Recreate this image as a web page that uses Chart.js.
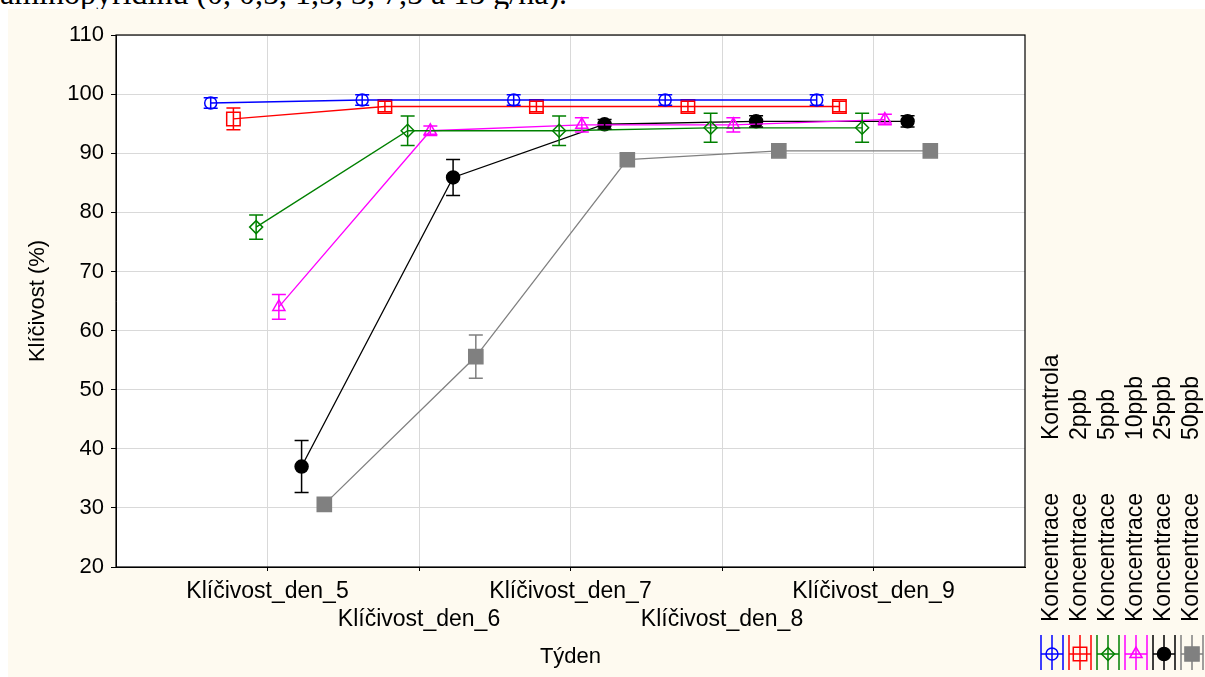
<!DOCTYPE html>
<html>
<head>
<meta charset="utf-8">
<script src="https://cdn.jsdelivr.net/npm/chart.js"></script>
<style>
  html, body { margin: 0; padding: 0; background: #fff; }
  #top { position: absolute; left: 0; top: 0; width: 1205px; height: 9px; overflow: hidden; }
  #top span { position: absolute; left: 0; top: -23px; font: 32px "Liberation Serif", serif; line-height: 32px; white-space: nowrap; color: #000; }
  #wrap { position: absolute; left: 8px; top: 9px; width: 1197px; height: 668px; background: #fefaf0; }
</style>
</head>
<body>
<div id="top"><span>aminopyridinu (0, 0,5, 1,5, 3, 7,5 a 15 g/ha).</span></div>
<div id="wrap"><canvas id="chart" width="1197" height="668"></canvas></div>
<script>
// x categories (days) and series (concentrations)
const days = ['Klíčivost_den_5', 'Klíčivost_den_6', 'Klíčivost_den_7', 'Klíčivost_den_8', 'Klíčivost_den_9'];
const groups = ['Kontrola', '2ppb', '5ppb', '10ppb', '25ppb', '50ppb'];

// mean germination (%)
const kontrola = [98.5, 99, 99, 99, 99];
const ppb2 = [95.8, 97.9, 97.9, 97.9, 97.9];
const ppb5 = [77.5, 93.8, 93.8, 94.3, 94.3];
const ppb10 = [64, 93.8, 94.8, 94.8, 95.7];
const ppb25 = [37, 85.9, 94.9, 95.4, 95.4];
const ppb50 = [30.6, 55.6, 88.9, 90.4, 90.4];

// error bar half-widths
const errKontrola = [0.9, 0.9, 0.9, 0.9, 0.9];
const errPpb2 = [1.85, 0.9, 0.9, 0.9, 0.9];
const errPpb5 = [2.05, 2.5, 2.5, 2.45, 2.45];
const errPpb10 = [2.1, 0.8, 1.2, 1.2, 0.9];
const errPpb25 = [4.4, 3.05, 0.8, 0.95, 0.95];
const errPpb50 = [0.5, 3.65, 0.6, 0.7, 0.7];

const values = [kontrola, ppb2, ppb5, ppb10, ppb25, ppb50];
const errors = [errKontrola, errPpb2, errPpb5, errPpb10, errPpb25, errPpb50];

const colors = ['#0000ff', '#ff0000', '#008000', '#ff00ff', '#000000', '#808080'];
const markers = [
  { pointStyle: 'circle', radius: 6, fill: false },
  { pointStyle: 'rect', radius: 9.5, fill: false },
  { pointStyle: 'rectRot', radius: 6.5, fill: false },
  { pointStyle: 'triangle', radius: 7, fill: false },
  { pointStyle: 'circle', radius: 6.5, fill: true },
  { pointStyle: 'rect', radius: 10, fill: true },
];

const FONT = '"Liberation Sans", Arial, sans-serif';

const datasets = values.map((vals, s) => ({
  label: groups[s],
  data: vals.map((v, i) => ({ x: i + 1 + (s - 2.5) * 0.15, y: v })),
  errors: errors[s],
  borderColor: colors[s],
  backgroundColor: colors[s],
  borderWidth: 1.3,
  tension: 0,
  pointStyle: markers[s].pointStyle,
  pointRadius: markers[s].radius,
  pointBorderWidth: 1.5,
  pointBorderColor: colors[s],
  pointBackgroundColor: markers[s].fill ? colors[s] : 'rgba(0,0,0,0)',
}));

const plotBackground = {
  id: 'plotBackground',
  beforeDraw(chart) {
    const { ctx, chartArea: a } = chart;
    ctx.save();
    ctx.fillStyle = '#fff';
    ctx.fillRect(a.left, a.top, a.right - a.left, a.bottom - a.top);
    ctx.restore();
  },
  afterDraw(chart) {
    const { ctx, chartArea: a } = chart;
    ctx.save();
    ctx.strokeStyle = '#000';
    ctx.lineWidth = 1.2;
    ctx.strokeRect(a.left, a.top, a.right - a.left, a.bottom - a.top);
    ctx.restore();
  }
};

const errorBars = {
  id: 'errorBars',
  afterDatasetsDraw(chart) {
    const { ctx, scales: { x, y } } = chart;
    chart.data.datasets.forEach((ds) => {
      ctx.save();
      ctx.strokeStyle = ds.borderColor;
      ctx.lineWidth = 1.5;
      ds.data.forEach((p, i) => {
        const e = ds.errors[i];
        const px = x.getPixelForValue(p.x);
        const y1 = y.getPixelForValue(p.y + e);
        const y2 = y.getPixelForValue(p.y - e);
        ctx.beginPath();
        ctx.moveTo(px, y1); ctx.lineTo(px, y2);
        ctx.moveTo(px - 7, y1); ctx.lineTo(px + 7, y1);
        ctx.moveTo(px - 7, y2); ctx.lineTo(px + 7, y2);
        ctx.stroke();
      });
      ctx.restore();
    });
  }
};

// legend on the right, rotated text like the original
const sideLegend = {
  id: 'sideLegend',
  afterDraw(chart) {
    const ctx = chart.ctx;
    groups.forEach((g, i) => {
      const cx = 1044 + 28 * i;
      ctx.save();
      ctx.font = '23px ' + FONT;
      ctx.fillStyle = '#000';
      ctx.translate(cx, 613);
      ctx.rotate(-Math.PI / 2);
      ctx.textAlign = 'left';
      ctx.textBaseline = 'middle';
      ctx.fillText('Koncentrace', 0, 0);
      ctx.fillText(g, 182, 0);
      ctx.restore();

      ctx.save();
      ctx.strokeStyle = colors[i];
      ctx.lineWidth = 1.5;
      ctx.beginPath();
      [cx - 11, cx, cx + 11].forEach((lx) => { ctx.moveTo(lx, 626); ctx.lineTo(lx, 661); });
      ctx.moveTo(cx - 11, 645); ctx.lineTo(cx + 11, 645);
      ctx.stroke();
      ctx.fillStyle = markers[i].fill ? colors[i] : 'rgba(0,0,0,0)';
      Chart.helpers.drawPoint(ctx, {
        pointStyle: markers[i].pointStyle,
        radius: markers[i].radius,
        rotation: 0,
        borderWidth: 1.5
      }, cx, 645);
      ctx.restore();
    });
  }
};

new Chart(document.getElementById('chart'), {
  type: 'line',
  data: { datasets },
  options: {
    responsive: false,
    animation: false,
    layout: { padding: { top: 26, right: 180, left: 0, bottom: 0 } },
    plugins: { legend: { display: false }, tooltip: { enabled: false } },
    scales: {
      x: {
        type: 'linear',
        min: 0,
        max: 6,
        afterBuildTicks: (s) => { s.ticks = days.map((d, i) => ({ value: i + 1 })); },
        afterFit: (s) => { s.height = 110; },
        ticks: {
          autoSkip: false,
          maxRotation: 0,
          minRotation: 0,
          padding: 7,
          color: '#000',
          font: { family: FONT, size: 23 },
          callback: (v) => (v % 2 === 1 ? days[v - 1] : ['', days[v - 1]])
        },
        grid: { color: '#d9d9d9', tickColor: '#000', tickLength: 4 },
        border: { color: '#000', width: 1 },
        title: {
          display: true,
          text: 'Týden',
          color: '#000',
          font: { family: FONT, size: 22 },
          padding: { top: 0, bottom: 7 }
        }
      },
      y: {
        min: 20,
        max: 110,
        afterFit: (s) => { s.width = 108; },
        ticks: {
          stepSize: 10,
          padding: 7,
          color: '#000',
          font: { family: FONT, size: 22 }
        },
        grid: { color: '#d9d9d9', tickColor: '#000', tickLength: 5 },
        border: { color: '#000', width: 1 },
        title: {
          display: true,
          text: 'Klíčivost (%)',
          color: '#000',
          font: { family: FONT, size: 22 },
          padding: { top: 17, bottom: 0 }
        }
      }
    }
  },
  plugins: [plotBackground, errorBars, sideLegend]
});
</script>
</body>
</html>
